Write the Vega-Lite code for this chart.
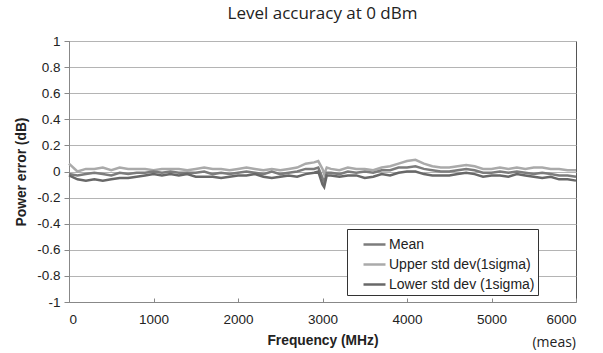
{
  "$schema": "https://vega.github.io/schema/vega-lite/v6.json",
  "width": 507,
  "height": 261,
  "autosize": {"type": "none"},
  "padding": {"left": 69, "top": 41, "right": 27, "bottom": 51},
  "background": "white",
  "title": {"text": "Level accuracy at 0 dBm", "font": "Open Sans", "fontSize": 17, "fontWeight": "normal", "color": "#222222", "offset": 11, "anchor": "middle"},
  "config": {
    "view": {"stroke": "#555555", "strokeWidth": 1},
    "axis": {"labelFont": "Liberation Sans", "labelFontSize": 13.5, "labelColor": "#222222", "titleFont": "Liberation Sans", "titleFontSize": 13.8, "titleFontWeight": "bold", "titleColor": "#222222", "domainColor": "#888888", "tickColor": "#888888", "gridColor": "#b4b4b4", "gridWidth": 1, "labelOverlap": false}
  },
  "data": {"values": [
    {"f":0,"s":"Upper std dev(1sigma)","v":0.06},{"f":100,"s":"Upper std dev(1sigma)","v":0.0},{"f":200,"s":"Upper std dev(1sigma)","v":0.02},{"f":300,"s":"Upper std dev(1sigma)","v":0.02},{"f":400,"s":"Upper std dev(1sigma)","v":0.03},{"f":500,"s":"Upper std dev(1sigma)","v":0.01},{"f":600,"s":"Upper std dev(1sigma)","v":0.03},{"f":700,"s":"Upper std dev(1sigma)","v":0.02},{"f":800,"s":"Upper std dev(1sigma)","v":0.02},{"f":900,"s":"Upper std dev(1sigma)","v":0.02},{"f":1000,"s":"Upper std dev(1sigma)","v":0.01},{"f":1100,"s":"Upper std dev(1sigma)","v":0.02},{"f":1200,"s":"Upper std dev(1sigma)","v":0.02},{"f":1300,"s":"Upper std dev(1sigma)","v":0.02},{"f":1400,"s":"Upper std dev(1sigma)","v":0.01},{"f":1500,"s":"Upper std dev(1sigma)","v":0.02},{"f":1600,"s":"Upper std dev(1sigma)","v":0.03},{"f":1700,"s":"Upper std dev(1sigma)","v":0.02},{"f":1800,"s":"Upper std dev(1sigma)","v":0.02},{"f":1900,"s":"Upper std dev(1sigma)","v":0.01},{"f":2000,"s":"Upper std dev(1sigma)","v":0.02},{"f":2100,"s":"Upper std dev(1sigma)","v":0.03},{"f":2200,"s":"Upper std dev(1sigma)","v":0.02},{"f":2300,"s":"Upper std dev(1sigma)","v":0.01},{"f":2400,"s":"Upper std dev(1sigma)","v":0.02},{"f":2500,"s":"Upper std dev(1sigma)","v":0.01},{"f":2600,"s":"Upper std dev(1sigma)","v":0.02},{"f":2700,"s":"Upper std dev(1sigma)","v":0.03},{"f":2800,"s":"Upper std dev(1sigma)","v":0.06},{"f":2900,"s":"Upper std dev(1sigma)","v":0.07},{"f":2950,"s":"Upper std dev(1sigma)","v":0.08},{"f":3000,"s":"Upper std dev(1sigma)","v":0.02},{"f":3020,"s":"Upper std dev(1sigma)","v":-0.02},{"f":3050,"s":"Upper std dev(1sigma)","v":0.03},{"f":3100,"s":"Upper std dev(1sigma)","v":0.02},{"f":3200,"s":"Upper std dev(1sigma)","v":0.01},{"f":3300,"s":"Upper std dev(1sigma)","v":0.03},{"f":3400,"s":"Upper std dev(1sigma)","v":0.02},{"f":3500,"s":"Upper std dev(1sigma)","v":0.02},{"f":3600,"s":"Upper std dev(1sigma)","v":0.01},{"f":3700,"s":"Upper std dev(1sigma)","v":0.03},{"f":3800,"s":"Upper std dev(1sigma)","v":0.04},{"f":3900,"s":"Upper std dev(1sigma)","v":0.06},{"f":4000,"s":"Upper std dev(1sigma)","v":0.08},{"f":4100,"s":"Upper std dev(1sigma)","v":0.09},{"f":4200,"s":"Upper std dev(1sigma)","v":0.06},{"f":4300,"s":"Upper std dev(1sigma)","v":0.04},{"f":4400,"s":"Upper std dev(1sigma)","v":0.03},{"f":4500,"s":"Upper std dev(1sigma)","v":0.03},{"f":4600,"s":"Upper std dev(1sigma)","v":0.04},{"f":4700,"s":"Upper std dev(1sigma)","v":0.05},{"f":4800,"s":"Upper std dev(1sigma)","v":0.04},{"f":4900,"s":"Upper std dev(1sigma)","v":0.02},{"f":5000,"s":"Upper std dev(1sigma)","v":0.02},{"f":5100,"s":"Upper std dev(1sigma)","v":0.03},{"f":5200,"s":"Upper std dev(1sigma)","v":0.02},{"f":5300,"s":"Upper std dev(1sigma)","v":0.03},{"f":5400,"s":"Upper std dev(1sigma)","v":0.02},{"f":5500,"s":"Upper std dev(1sigma)","v":0.03},{"f":5600,"s":"Upper std dev(1sigma)","v":0.03},{"f":5700,"s":"Upper std dev(1sigma)","v":0.02},{"f":5800,"s":"Upper std dev(1sigma)","v":0.02},{"f":5900,"s":"Upper std dev(1sigma)","v":0.01},{"f":6000,"s":"Upper std dev(1sigma)","v":0.01},
    {"f":0,"s":"Mean","v":-0.02},{"f":100,"s":"Mean","v":-0.03},{"f":200,"s":"Mean","v":-0.02},{"f":300,"s":"Mean","v":-0.01},{"f":400,"s":"Mean","v":-0.02},{"f":500,"s":"Mean","v":-0.03},{"f":600,"s":"Mean","v":-0.01},{"f":700,"s":"Mean","v":-0.02},{"f":800,"s":"Mean","v":-0.01},{"f":900,"s":"Mean","v":-0.01},{"f":1000,"s":"Mean","v":0.0},{"f":1100,"s":"Mean","v":-0.01},{"f":1200,"s":"Mean","v":0.0},{"f":1300,"s":"Mean","v":-0.01},{"f":1400,"s":"Mean","v":-0.01},{"f":1500,"s":"Mean","v":-0.01},{"f":1600,"s":"Mean","v":0.0},{"f":1700,"s":"Mean","v":-0.02},{"f":1800,"s":"Mean","v":-0.01},{"f":1900,"s":"Mean","v":-0.02},{"f":2000,"s":"Mean","v":-0.01},{"f":2100,"s":"Mean","v":0.0},{"f":2200,"s":"Mean","v":-0.01},{"f":2300,"s":"Mean","v":-0.02},{"f":2400,"s":"Mean","v":0.0},{"f":2500,"s":"Mean","v":-0.02},{"f":2600,"s":"Mean","v":-0.01},{"f":2700,"s":"Mean","v":0.0},{"f":2800,"s":"Mean","v":0.02},{"f":2900,"s":"Mean","v":0.02},{"f":2950,"s":"Mean","v":0.03},{"f":3000,"s":"Mean","v":-0.05},{"f":3020,"s":"Mean","v":-0.09},{"f":3050,"s":"Mean","v":-0.01},{"f":3100,"s":"Mean","v":-0.01},{"f":3200,"s":"Mean","v":-0.02},{"f":3300,"s":"Mean","v":0.0},{"f":3400,"s":"Mean","v":-0.01},{"f":3500,"s":"Mean","v":0.0},{"f":3600,"s":"Mean","v":-0.01},{"f":3700,"s":"Mean","v":0.01},{"f":3800,"s":"Mean","v":0.01},{"f":3900,"s":"Mean","v":0.03},{"f":4000,"s":"Mean","v":0.03},{"f":4100,"s":"Mean","v":0.04},{"f":4200,"s":"Mean","v":0.02},{"f":4300,"s":"Mean","v":0.01},{"f":4400,"s":"Mean","v":0.0},{"f":4500,"s":"Mean","v":0.0},{"f":4600,"s":"Mean","v":0.01},{"f":4700,"s":"Mean","v":0.02},{"f":4800,"s":"Mean","v":0.01},{"f":4900,"s":"Mean","v":-0.01},{"f":5000,"s":"Mean","v":-0.01},{"f":5100,"s":"Mean","v":0.0},{"f":5200,"s":"Mean","v":-0.01},{"f":5300,"s":"Mean","v":0.0},{"f":5400,"s":"Mean","v":-0.01},{"f":5500,"s":"Mean","v":-0.02},{"f":5600,"s":"Mean","v":-0.01},{"f":5700,"s":"Mean","v":-0.02},{"f":5800,"s":"Mean","v":-0.03},{"f":5900,"s":"Mean","v":-0.03},{"f":6000,"s":"Mean","v":-0.04},
    {"f":0,"s":"Lower std dev (1sigma)","v":-0.03},{"f":100,"s":"Lower std dev (1sigma)","v":-0.06},{"f":200,"s":"Lower std dev (1sigma)","v":-0.07},{"f":300,"s":"Lower std dev (1sigma)","v":-0.06},{"f":400,"s":"Lower std dev (1sigma)","v":-0.07},{"f":500,"s":"Lower std dev (1sigma)","v":-0.06},{"f":600,"s":"Lower std dev (1sigma)","v":-0.05},{"f":700,"s":"Lower std dev (1sigma)","v":-0.05},{"f":800,"s":"Lower std dev (1sigma)","v":-0.04},{"f":900,"s":"Lower std dev (1sigma)","v":-0.03},{"f":1000,"s":"Lower std dev (1sigma)","v":-0.02},{"f":1100,"s":"Lower std dev (1sigma)","v":-0.03},{"f":1200,"s":"Lower std dev (1sigma)","v":-0.02},{"f":1300,"s":"Lower std dev (1sigma)","v":-0.03},{"f":1400,"s":"Lower std dev (1sigma)","v":-0.02},{"f":1500,"s":"Lower std dev (1sigma)","v":-0.04},{"f":1600,"s":"Lower std dev (1sigma)","v":-0.04},{"f":1700,"s":"Lower std dev (1sigma)","v":-0.04},{"f":1800,"s":"Lower std dev (1sigma)","v":-0.05},{"f":1900,"s":"Lower std dev (1sigma)","v":-0.04},{"f":2000,"s":"Lower std dev (1sigma)","v":-0.03},{"f":2100,"s":"Lower std dev (1sigma)","v":-0.03},{"f":2200,"s":"Lower std dev (1sigma)","v":-0.02},{"f":2300,"s":"Lower std dev (1sigma)","v":-0.04},{"f":2400,"s":"Lower std dev (1sigma)","v":-0.05},{"f":2500,"s":"Lower std dev (1sigma)","v":-0.04},{"f":2600,"s":"Lower std dev (1sigma)","v":-0.03},{"f":2700,"s":"Lower std dev (1sigma)","v":-0.04},{"f":2800,"s":"Lower std dev (1sigma)","v":-0.02},{"f":2900,"s":"Lower std dev (1sigma)","v":-0.01},{"f":2950,"s":"Lower std dev (1sigma)","v":0.0},{"f":3000,"s":"Lower std dev (1sigma)","v":-0.1},{"f":3020,"s":"Lower std dev (1sigma)","v":-0.12},{"f":3050,"s":"Lower std dev (1sigma)","v":-0.03},{"f":3100,"s":"Lower std dev (1sigma)","v":-0.03},{"f":3200,"s":"Lower std dev (1sigma)","v":-0.04},{"f":3300,"s":"Lower std dev (1sigma)","v":-0.03},{"f":3400,"s":"Lower std dev (1sigma)","v":-0.03},{"f":3500,"s":"Lower std dev (1sigma)","v":-0.05},{"f":3600,"s":"Lower std dev (1sigma)","v":-0.04},{"f":3700,"s":"Lower std dev (1sigma)","v":-0.02},{"f":3800,"s":"Lower std dev (1sigma)","v":-0.03},{"f":3900,"s":"Lower std dev (1sigma)","v":-0.01},{"f":4000,"s":"Lower std dev (1sigma)","v":0.0},{"f":4100,"s":"Lower std dev (1sigma)","v":0.0},{"f":4200,"s":"Lower std dev (1sigma)","v":-0.02},{"f":4300,"s":"Lower std dev (1sigma)","v":-0.03},{"f":4400,"s":"Lower std dev (1sigma)","v":-0.03},{"f":4500,"s":"Lower std dev (1sigma)","v":-0.03},{"f":4600,"s":"Lower std dev (1sigma)","v":-0.02},{"f":4700,"s":"Lower std dev (1sigma)","v":-0.01},{"f":4800,"s":"Lower std dev (1sigma)","v":-0.02},{"f":4900,"s":"Lower std dev (1sigma)","v":-0.04},{"f":5000,"s":"Lower std dev (1sigma)","v":-0.03},{"f":5100,"s":"Lower std dev (1sigma)","v":-0.03},{"f":5200,"s":"Lower std dev (1sigma)","v":-0.04},{"f":5300,"s":"Lower std dev (1sigma)","v":-0.02},{"f":5400,"s":"Lower std dev (1sigma)","v":-0.03},{"f":5500,"s":"Lower std dev (1sigma)","v":-0.04},{"f":5600,"s":"Lower std dev (1sigma)","v":-0.05},{"f":5700,"s":"Lower std dev (1sigma)","v":-0.04},{"f":5800,"s":"Lower std dev (1sigma)","v":-0.06},{"f":5900,"s":"Lower std dev (1sigma)","v":-0.06},{"f":6000,"s":"Lower std dev (1sigma)","v":-0.07}
  ]},
  "encoding": {
    "x": {"field": "f", "type": "quantitative", "scale": {"domain": [0, 6000], "nice": false},
      "axis": {"values": [0, 1000, 2000, 3000, 4000, 5000, 6000], "format": "d", "title": "Frequency (MHz)", "grid": false, "tickSize": -4, "labelPadding": 14, "titlePadding": 8}},
    "y": {"field": "v", "type": "quantitative", "scale": {"domain": [-1, 1], "nice": false},
      "axis": {"values": [-1, -0.8, -0.6, -0.4, -0.2, 0, 0.2, 0.4, 0.6, 0.8, 1], "labelExpr": "toString(datum.value)", "title": "Power error (dB)", "grid": true, "tickSize": 5, "labelPadding": 4, "titlePadding": 8}}
  },
  "layer": [
    {
      "mark": {"type": "line", "strokeWidth": 2.5},
      "encoding": {
        "color": {"field": "s", "type": "nominal",
          "scale": {"domain": ["Mean", "Upper std dev(1sigma)", "Lower std dev (1sigma)"], "range": ["#7c7c7c", "#aaaaaa", "#686868"]},
          "legend": {"orient": "none", "legendX": 278, "legendY": 188, "title": null, "symbolType": "stroke", "symbolSize": 484, "symbolStrokeWidth": 2.5, "symbolOffset": 12, "labelFont": "Liberation Sans", "labelFontSize": 14, "labelColor": "#222222", "labelExpr": "datum.label + '\u00a0\u00a0\u00a0'", "strokeColor": "#333333", "fillColor": "white", "padding": 3, "rowPadding": -1, "labelOffset": 2}}
      }
    },
    {
      "data": {"values": [{"f": 6000, "v": -1, "label": "(meas)"}]},
      "mark": {"type": "text", "align": "right", "baseline": "middle", "dy": 41, "font": "Open Sans", "fontSize": 14, "color": "#222222"},
      "encoding": {
        "text": {"field": "label"}
      }
    }
  ]
}
